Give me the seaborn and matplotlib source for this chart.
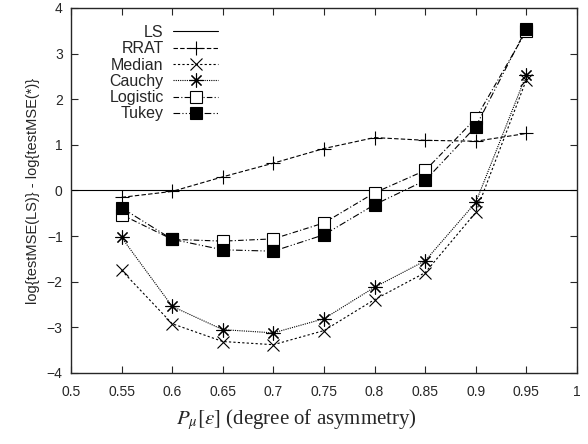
import matplotlib
matplotlib.use("Agg")
import matplotlib.pyplot as plt
import numpy as np
import pandas as pd
import seaborn as sns

# data
asym = [0.55, 0.6, 0.65, 0.7, 0.75, 0.8, 0.85, 0.9, 0.95]
ls_x = [0.5, 1.0]
ls_y = [0.0, 0.0]
rrat = [-0.15, -0.02, 0.30, 0.60, 0.92, 1.16, 1.10, 1.08, 1.25]
median = [-1.75, -2.92, -3.31, -3.38, -3.07, -2.39, -1.80, -0.48, 2.43]
cauchy = [-1.03, -2.54, -3.05, -3.12, -2.81, -2.12, -1.54, -0.26, 2.54]
logistic = [-0.53, -1.07, -1.11, -1.06, -0.71, -0.05, 0.44, 1.58, 3.50]
tukey = [-0.38, -1.07, -1.30, -1.33, -0.97, -0.31, 0.22, 1.40, 3.55]

x_ticks = [0.5, 0.55, 0.6, 0.65, 0.7, 0.75, 0.8, 0.85, 0.9, 0.95, 1]
x_ticklabels = ["0.5", "0.55", "0.6", "0.65", "0.7", "0.75", "0.8", "0.85", "0.9", "0.95", "1"]
y_ticks = [-4, -3, -2, -1, 0, 1, 2, 3, 4]

sns.set_style("ticks")
plt.rcParams["font.family"] = ["Liberation Sans", "DejaVu Sans"]
plt.rcParams["mathtext.fontset"] = "stix"

fig = plt.figure(figsize=(5.88, 4.44), dpi=100)
ax = fig.add_axes([71 / 588, 1 - 373 / 444, 506 / 588, 365 / 444])

lw = 0.8
common = dict(ax=ax, color="k", linewidth=lw, markeredgecolor="k", markeredgewidth=0.8)
sns.lineplot(x=ls_x, y=ls_y, label="LS", **common)
sns.lineplot(x=asym, y=rrat, label="RRAT", marker="+", markersize=10,
             linestyle=(0, (4, 2)), **common)
sns.lineplot(x=asym, y=median, label="Median", marker="x", markersize=8,
             linestyle=(0, (2, 2)), **common)
sns.lineplot(x=asym, y=cauchy, label="Cauchy", marker=(8, 2, 0), markersize=10,
             linestyle=(0, (1, 1)), **common)
sns.lineplot(x=asym, y=logistic, label="Logistic", marker="s", markersize=8,
             markerfacecolor="white", linestyle=(0, (5, 2, 1, 2)), **common)
sns.lineplot(x=asym, y=tukey, label="Tukey", marker="s", markersize=8,
             markerfacecolor="k", linestyle=(0, (6, 2, 1, 2, 1, 2)), **common)

ax.set_xlim(0.5, 1.0)
ax.set_ylim(-4, 4)
ax.set_xticks(x_ticks)
ax.set_xticklabels(x_ticklabels)
ax.set_yticks(y_ticks)
ax.tick_params(direction="in", top=True, right=True, labelsize=10, length=5, width=0.8)
ax.tick_params(axis="x", pad=9)
ax.tick_params(axis="y", pad=6)
for s in ax.spines.values():
    s.set_linewidth(1.0)

ax.set_ylabel("log{testMSE(LS)} - log{testMSE(*)}", fontsize=10.5, labelpad=5)
# gnuplot centres the x label on the whole canvas
fig.text(0.505, 1 - 420 / 444, r"$P_\mu[\epsilon]$ (degree of asymmetry)", fontsize=15,
         family=["Liberation Serif"], ha="center", va="center")

leg = ax.legend(loc="upper right", bbox_to_anchor=(218 / 588, 1 - 25 / 444),
                bbox_transform=fig.transFigure, frameon=False, markerfirst=False,
                fontsize=11.5, handlelength=2.8, handletextpad=0.6,
                labelspacing=0.08, borderpad=0, borderaxespad=0)

fig.savefig("out.png", dpi=100)
